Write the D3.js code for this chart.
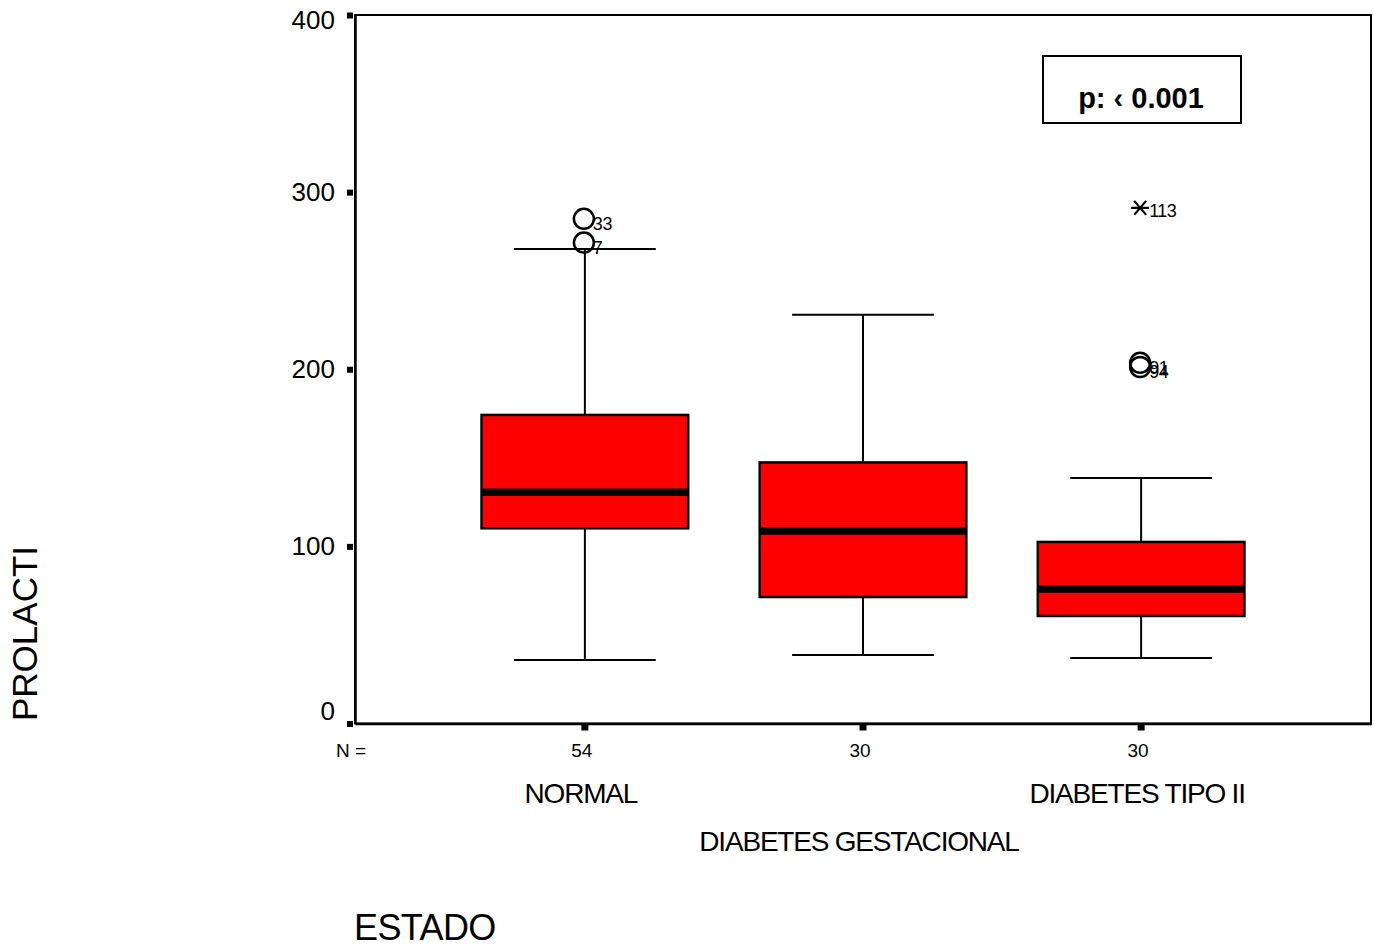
<!DOCTYPE html>
<html>
<head>
<meta charset="utf-8">
<script src="https://cdn.jsdelivr.net/npm/d3@7"></script>
<style>
  body { margin: 0; background: #fff; }
  svg { display: block; font-family: 'Liberation Sans', Arial, sans-serif; }
</style>
</head>
<body>
<div id="chart"></div>
<script>
// datos (PROLACTI por ESTADO)
const categorias = ['NORMAL', 'DIABETES GESTACIONAL', 'DIABETES TIPO II']
const nCasos = [54, 30, 30]
const minimos = [35.9, 38.7, 37.0]
const q1s = [110.2, 71.4, 60.7]
const medianas = [130.5, 108.7, 76.0]
const q3s = [174.2, 147.4, 102.5]
const maximos = [267.9, 230.7, 138.6]

// valores atipicos (o) y extremos (*)
const atipicos = [
  { grupo: 'NORMAL', valor: 284.9, caso: '33', tipo: 'o' },
  { grupo: 'NORMAL', valor: 271.5, caso: '7', tipo: 'o' },
  { grupo: 'DIABETES TIPO II', valor: 203.6, caso: '91', tipo: 'o' },
  { grupo: 'DIABETES TIPO II', valor: 201.3, caso: '94', tipo: 'o' },
  { grupo: 'DIABETES TIPO II', valor: 291.1, caso: '113', tipo: '*' }
]
const yTicks = [0, 100, 200, 300, 400]

const width = 1374
const height = 947
const plot = { left: 355, right: 1371, top: 15, bottom: 723.5 }

const svg = d3.select('#chart')
  .append('svg')
  .attr('width', width)
  .attr('height', height)

const x = d3.scaleBand()
  .domain(categorias)
  .range([plot.left, plot.right])
  .paddingInner(0.257)
  .paddingOuter(0.455)

const y = d3.scaleLinear()
  .domain([0, 400])
  .range([plot.bottom, plot.top])

const cx = d => x(d) + x.bandwidth() / 2
const capW = x.bandwidth() * 0.686

// marco
svg.append('rect')
  .attr('x', plot.left)
  .attr('y', plot.top)
  .attr('width', plot.right - plot.left)
  .attr('height', plot.bottom - plot.top)
  .attr('fill', 'none')
  .attr('stroke', '#000')
  .attr('stroke-width', 2)

// eje y
const yAxis = svg.append('g')
  .attr('transform', `translate(${plot.left},0)`)
  .call(d3.axisLeft(y).tickValues(yTicks).tickSize(0).tickPadding(20))
yAxis.select('.domain').attr('stroke-width', 2.5)
yAxis.selectAll('.tick line')
  .attr('x1', -8)
  .attr('x2', -2)
  .attr('stroke-width', 6)
yAxis.selectAll('.tick text')
  .attr('font-size', 26)
  .attr('font-family', 'Liberation Sans, Arial, sans-serif')
  .attr('fill', '#000')
  .attr('dy', d => (d === 0 ? '-0.14em' : d === 400 ? '0.52em' : '0.32em'))

// eje x (etiquetas escalonadas como en SPSS)
const xAxis = svg.append('g')
  .attr('transform', `translate(0,${plot.bottom})`)
  .call(d3.axisBottom(x).tickSize(0).tickPadding(59))
xAxis.select('.domain').attr('stroke-width', 2.5)
xAxis.selectAll('.tick line')
  .attr('y1', 1)
  .attr('y2', 7)
  .attr('stroke-width', 7)
xAxis.selectAll('.tick text')
  .attr('font-size', 28)
  .attr('letter-spacing', -1.2)
  .attr('font-family', 'Liberation Sans, Arial, sans-serif')
  .attr('fill', '#000')
  .attr('dx', -4)
  .attr('y', (d, i) => (i % 2 === 1 ? 108 : 60))

// fila N =
svg.append('text')
  .attr('x', 336)
  .attr('y', 757)
  .attr('font-size', 19)
  .text('N =')

svg.selectAll('.ncasos')
  .data(categorias)
  .enter().append('text')
  .attr('class', 'ncasos')
  .attr('x', d => cx(d) - 3)
  .attr('y', 757)
  .attr('font-size', 19)
  .attr('text-anchor', 'middle')
  .text((_, i) => nCasos[i])

// cajas
const cajas = svg.selectAll('.caja')
  .data(categorias)
  .enter().append('g')
  .attr('class', 'caja')

cajas.append('line')
  .attr('x1', d => cx(d))
  .attr('x2', d => cx(d))
  .attr('y1', (_, i) => y(maximos[i]))
  .attr('y2', (_, i) => y(minimos[i]))
  .attr('stroke', '#000')
  .attr('stroke-width', 2)

cajas.append('line')
  .attr('x1', d => cx(d) - capW / 2)
  .attr('x2', d => cx(d) + capW / 2)
  .attr('y1', (_, i) => y(maximos[i]))
  .attr('y2', (_, i) => y(maximos[i]))
  .attr('stroke', '#000')
  .attr('stroke-width', 2)

cajas.append('line')
  .attr('x1', d => cx(d) - capW / 2)
  .attr('x2', d => cx(d) + capW / 2)
  .attr('y1', (_, i) => y(minimos[i]))
  .attr('y2', (_, i) => y(minimos[i]))
  .attr('stroke', '#000')
  .attr('stroke-width', 2)

cajas.append('rect')
  .attr('x', d => x(d))
  .attr('width', x.bandwidth())
  .attr('y', (_, i) => y(q3s[i]))
  .attr('height', (_, i) => y(q1s[i]) - y(q3s[i]))
  .attr('fill', '#ff0000')
  .attr('stroke', '#000')
  .attr('stroke-width', 2.5)

cajas.append('line')
  .attr('x1', d => x(d) + 1)
  .attr('x2', d => x(d) + x.bandwidth() - 1)
  .attr('y1', (_, i) => y(medianas[i]))
  .attr('y2', (_, i) => y(medianas[i]))
  .attr('stroke', '#000')
  .attr('stroke-width', 7.5)

// atipicos
const puntos = svg.selectAll('.atipico')
  .data(atipicos)
  .enter().append('g')
  .attr('class', 'atipico')
  .attr('transform', d => `translate(${cx(d.grupo) - 1},${y(d.valor)})`)

puntos.filter(d => d.tipo === 'o')
  .append('circle')
  .attr('r', 10)
  .attr('fill', 'none')
  .attr('stroke', '#000')
  .attr('stroke-width', 2.5)

puntos.filter(d => d.tipo === '*')
  .append('path')
  .attr('d', 'M-9,0H9M-6,-7L6,7M-6,7L6,-7')
  .attr('stroke', '#000')
  .attr('stroke-width', 2.2)

puntos.append('text')
  .attr('x', 9)
  .attr('y', d => (d.tipo === '*' ? 9 : 11))
  .attr('font-size', 18)
  .attr('letter-spacing', -0.5)
  .text(d => d.caso)

// titulos
svg.append('text')
  .attr('transform', 'translate(37,633.5) rotate(-90)')
  .attr('text-anchor', 'middle')
  .attr('font-size', 35)
  .text('PROLACTI')

svg.append('text')
  .attr('x', 354)
  .attr('y', 940)
  .attr('font-size', 36)
  .attr('letter-spacing', -0.6)
  .text('ESTADO')

// recuadro del valor p
svg.append('rect')
  .attr('x', 1043)
  .attr('y', 56)
  .attr('width', 198)
  .attr('height', 67)
  .attr('fill', '#fff')
  .attr('stroke', '#000')
  .attr('stroke-width', 2)

svg.append('text')
  .attr('x', 1141)
  .attr('y', 108)
  .attr('text-anchor', 'middle')
  .attr('font-size', 29)
  .attr('font-weight', 'bold')
  .text('p: ‹ 0.001')
</script>
</body>
</html>
